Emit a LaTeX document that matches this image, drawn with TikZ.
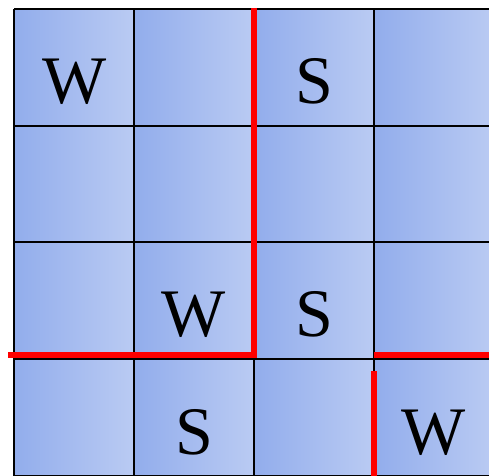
\documentclass[tikz,border=0pt]{standalone}
\usepackage{fontspec}
\setmainfont{Liberation Serif}
\definecolor{cellleft}{HTML}{92ADEC}
\definecolor{cellright}{HTML}{BACBF3}
\definecolor{wallred}{HTML}{FF0000}

\begin{document}
\begin{tikzpicture}[x=1pt,y=-1pt, every node/.style={font=\fontsize{68}{68}\selectfont,anchor=base},
  cell/.style={left color=cellleft,right color=cellright},
  gridline/.style={draw=black,line width=2pt},
  wall/.style={draw=wallred,line width=5.5pt}]
  \useasboundingbox[fill=white] (0,0) rectangle (489,475);
  \clip (0,0) rectangle (489,475);
  % cells
  \foreach \i in {0,...,3} \foreach \j in {0,...,3}
    \shade[cell] ({14+120*\i},{9+116.7*\j}) rectangle ++(120,116.7);
  \foreach \i in {0,...,4} \draw[gridline] ({14+120*\i},9) -- ++(0,480);
  \foreach \j in {0,...,4} \draw[gridline] (14,{9+116.7*\j}) -- ++(490,0);
  % letters
  \node (w1) at (75,103) {W};
  \node (s1) at (314,103) {S};
  \node (w2) at (194,336) {W};
  \node (s2) at (314,336) {S};
  \node (s3) at (194,454) {S};
  \node (w3) at (434,454) {W};
  % walls
  \coordinate (ta) at (254,8);
  \coordinate (tb) at (254,355);
  \coordinate (tc) at (8,355);
  \coordinate (ra) at (374,355);
  \coordinate (rb) at (495,355);
  \coordinate (ba) at (374,371);
  \coordinate (bb) at (374,480);
  \draw[wall] (ta) -- (tb) -- (tc);
  \draw[wall] (ra) -- (rb);
  \draw[wall] (ba) -- (bb);
\end{tikzpicture}
\end{document}
